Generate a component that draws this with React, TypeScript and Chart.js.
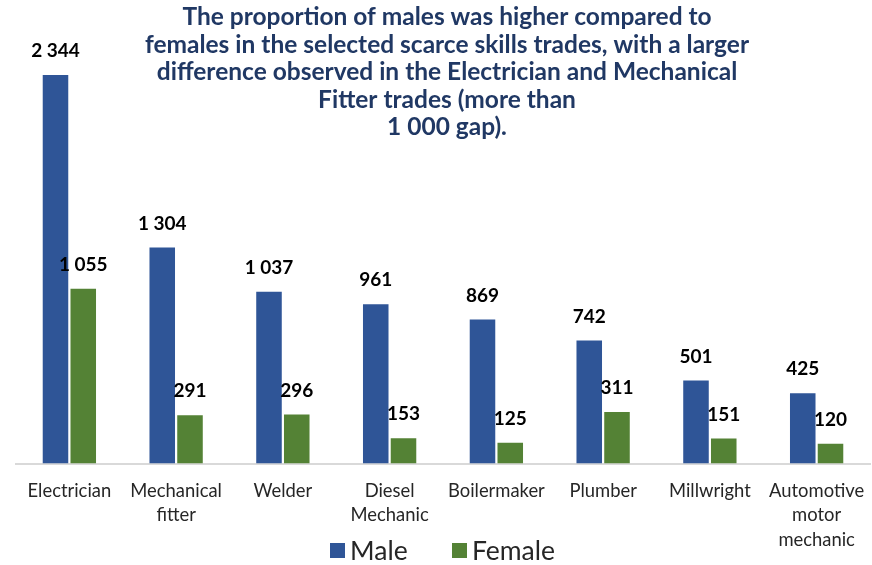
import React, { useEffect, useRef } from "react";
import { Chart, registerables } from "chart.js";

Chart.register(...registerables);

const categories: (string | string[])[] = [
  "Electrician",
  ["Mechanical", "fitter"],
  "Welder",
  ["Diesel", "Mechanic"],
  "Boilermaker",
  "Plumber",
  "Millwright",
  ["Automotive", "motor", "mechanic"],
];
const maleValues = [2344, 1304, 1037, 961, 869, 742, 501, 425];
const femaleValues = [1055, 291, 296, 153, 125, 311, 151, 120];
const titleLines = [
  "The proportion of males was higher compared to",
  "females in the selected scarce skills trades, with a larger",
  "difference observed in the Electrician and Mechanical",
  "Fitter trades (more than",
  "1 000 gap).",
];

const FONT = "Lato, 'Open Sans', sans-serif";

const fmt = (v: number) => String(v).replace(/\B(?=(\d{3})+(?!\d))/g, " ");

const labelPlugin = {
  id: "valueLabels",
  afterDatasetsDraw(chart: any) {
    const ctx = chart.ctx;
    ctx.save();
    ctx.font = `bold 19px ${FONT}`;
    ctx.fillStyle = "#000000";
    ctx.textAlign = "center";
    ctx.textBaseline = "middle";
    chart.data.datasets.forEach((ds: any, i: number) => {
      const meta = chart.getDatasetMeta(i);
      meta.data.forEach((el: any, j: number) => {
        ctx.fillText(fmt(ds.data[j]), el.x, el.y - 24);
      });
    });
    ctx.restore();
  },
};

const titlePlugin = {
  id: "overlayTitle",
  afterDraw(chart: any) {
    const ctx = chart.ctx;
    ctx.save();
    ctx.font = `bold 24.5px ${FONT}`;
    ctx.fillStyle = "#203864";
    ctx.textAlign = "center";
    ctx.textBaseline = "middle";
    titleLines.forEach((line, i) => {
      ctx.fillText(line, 447, 17 + i * 27.6);
    });
    ctx.restore();
  },
};

const legendPlugin = {
  id: "bottomLegend",
  afterDraw(chart: any) {
    const ctx = chart.ctx;
    ctx.save();
    ctx.font = `26.5px ${FONT}`;
    ctx.textBaseline = "middle";
    ctx.textAlign = "left";
    const starts = [330, 452];
    const cy = 551;
    chart.data.datasets.forEach((ds: any, i: number) => {
      const x = starts[i];
      ctx.fillStyle = ds.backgroundColor;
      ctx.fillRect(x, cy - 8, 15, 15);
      ctx.fillStyle = "#262626";
      ctx.fillText(ds.label, x + 20, cy);
    });
    ctx.restore();
  },
};

export default function App() {
  const ref = useRef<HTMLCanvasElement>(null);
  useEffect(() => {
    document.body.style.margin = "0";
    const chart = new Chart(ref.current!, {
      type: "bar",
      data: {
        labels: categories,
        datasets: [
          {
            label: "Male",
            data: maleValues,
            backgroundColor: "#2F5597",
            categoryPercentage: 0.52,
            barPercentage: 0.92,
          },
          {
            label: "Female",
            data: femaleValues,
            backgroundColor: "#548235",
            categoryPercentage: 0.52,
            barPercentage: 0.92,
          },
        ],
      },
      options: {
        animation: false,
        responsive: false,
        maintainAspectRatio: false,
        layout: { padding: { top: 75, left: 16, right: 2, bottom: 6 } },
        plugins: {
          title: { display: false },
          tooltip: { enabled: false },
          legend: { display: false },
        },
        scales: {
          x: {
            grid: { display: false },
            border: { display: true, color: "#D9D9D9", width: 2 },
            ticks: {
              font: { family: FONT, size: 18.4, lineHeight: 1.33 },
              color: "#262626",
              maxRotation: 0,
              autoSkip: false,
              padding: 7,
            },
          },
          y: {
            display: false,
            min: 0,
            max: 2344,
          },
        },
      },
      plugins: [labelPlugin, titlePlugin, legendPlugin],
    });
    return () => chart.destroy();
  }, []);
  return (
    <div style={{ width: 872, height: 565 }}>
      <canvas ref={ref} width={872} height={565} style={{ width: 872, height: 565 }} />
    </div>
  );
}
